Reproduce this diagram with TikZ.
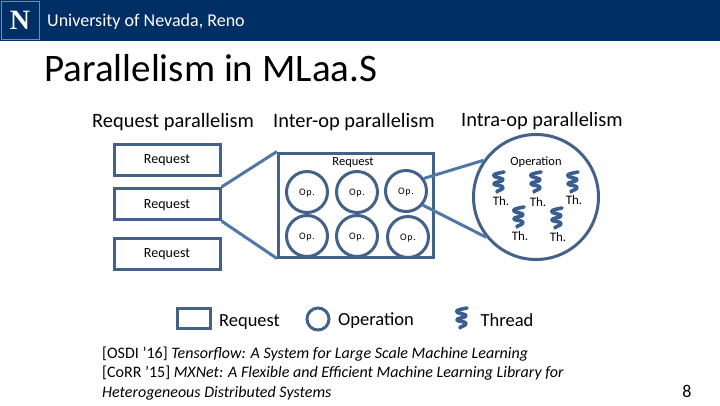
\documentclass[tikz,border=0pt]{standalone}
\usepackage{fontspec}
\setmainfont{Carlito}
\newfontfamily\logofont{Liberation Serif}
\definecolor{navy}{HTML}{002F66}
\definecolor{boxblue}{HTML}{44618A}
\definecolor{linkblue}{HTML}{4F78A8}
\definecolor{threadblue}{HTML}{3A5F8F}
\tikzset{
  x=1pt,y=-1pt,
  reqbox/.style={draw=boxblue,line width=3pt,minimum width=106pt,minimum height=31pt,inner sep=0pt,text depth=0pt,font=\fontsize{14}{16}\selectfont,text=black},
  opnode/.style={circle,draw=boxblue,line width=3pt,minimum size=41pt,inner sep=0pt,text depth=0pt,font=\fontsize{10}{12}\selectfont\addfontfeature{LetterSpace=6},text=black},
  linkline/.style={draw=linkblue,line width=3pt},
  head/.style={font=\fontsize{20.4}{24}\selectfont,text=black,inner sep=0pt},
  smalltxt/.style={font=\fontsize{12.5}{14}\selectfont,text=black,inner sep=0pt},
  thlabel/.style={font=\fontsize{13}{15}\selectfont,text=black,inner sep=0pt},
  legtxt/.style={font=\fontsize{18.5}{22}\selectfont,text=black,inner sep=0pt},
  threadmark/.pic={
    \draw[threadblue,line width=3.6pt,line join=round,line cap=round]
      (5,-10) .. controls (0,-9) and (-7,-8) .. (-5,-6)
      .. controls (-3,-4) and (5,-4) .. (4,-2)
      .. controls (3,0) and (-6,0) .. (-5,2)
      .. controls (-4,4) and (5,3) .. (4,6)
      .. controls (3,8) and (-3,9) .. (-2,10);
  }
}
\begin{document}
\begin{tikzpicture}
\useasboundingbox (0,0) rectangle (720,405);
\fill[white] (0,0) rectangle (720,405);
\fill[navy] (0,0) rectangle (720,41);
\node[draw=white!45!navy,line width=0.8pt,minimum size=38pt,inner sep=0pt,text=white,font=\logofont\bfseries\fontsize{28}{30}\selectfont] (logo) at (20,20) {N};
\node[anchor=west,text=white,inner sep=0pt,font=\fontsize{18}{22}\selectfont] (uni) at (47,21.5) {University of Nevada, Reno};
\node[anchor=west,text=black,inner sep=0pt,font=\fontsize{39}{46}\selectfont] (title) at (44,68) {Parallelism in MLaa.S};

\node[head,anchor=west] (h1) at (92,122.5) {Request parallelism};
\node[head,anchor=west] (h2) at (273,122.5) {Inter-op parallelism};
\node[head,anchor=west] (h3) at (461,121.5) {Intra-op parallelism};

\node[reqbox] (r1) at (167,159.5) {Request};
\node[reqbox] (r2) at (167,204) {Request};
\node[reqbox] (r3) at (167,253.5) {Request};

\node[draw=boxblue,line width=3pt,minimum width=155pt,minimum height=104pt,inner sep=0pt] (big) at (356,205) {};
\node[smalltxt] (bigl) at (353,162) {Request};
\node[opnode] (o1) at (307,192) {Op.};
\node[opnode] (o2) at (357,192) {Op.};
\node[opnode] (o3) at (406,191) {Op.};
\node[opnode] (o4) at (307,236) {Op.};
\node[opnode] (o5) at (357,236) {Op.};
\node[opnode] (o6) at (408,237) {Op.};

\node[circle,draw=boxblue,line width=3pt,minimum size=125pt,inner sep=0pt] (opc) at (536,197) {};
\node[smalltxt] (opl) at (536,162) {Operation};

\draw[linkline] (r2.north east) -- (big.north west);
\draw[linkline] (r2.south east) -- (big.south west);
\draw[linkline] (o3.35) -- (opc.145);
\draw[linkline] (o3.-40) -- (opc.219);

\pic at (499,182) {threadmark};
\pic at (536,182) {threadmark};
\pic at (573,182) {threadmark};
\pic at (519,217) {threadmark};
\pic at (557,218) {threadmark};
\node[thlabel] (t1) at (501,201) {Th.};
\node[thlabel] (t2) at (538,202) {Th.};
\node[thlabel] (t3) at (574,200) {Th.};
\node[thlabel] (t4) at (520,236) {Th.};
\node[thlabel] (t5) at (558,237) {Th.};

\node[draw=boxblue,line width=3pt,minimum width=33pt,minimum height=20pt,inner sep=0pt] (lr) at (194,318.5) {};
\node[legtxt] (lrt) at (249.5,322.5) {Request};
\node[circle,draw=boxblue,line width=3pt,minimum size=22pt,inner sep=0pt] (lo) at (318,319) {};
\node[legtxt] (lot) at (376,320.5) {Operation};
\pic at (462,318) {threadmark};
\node[legtxt] (ltt) at (507,320) {Thread};

\node[anchor=north west,align=left,inner sep=0pt,text=black,font=\fontsize{16}{19.5}\selectfont] (refs) at (102,346.5) {[OSDI ’16] \textit{Tensorflow: A System for Large Scale Machine Learning}\\\relax [CoRR ’15] \textit{MXNet: A Flexible and Efficient Machine Learning Library for}\\\textit{Heterogeneous Distributed Systems}};
\node[text=black,inner sep=0pt,font=\fontsize{18}{21}\selectfont] (pg) at (687,391) {8};
\end{tikzpicture}
\end{document}
